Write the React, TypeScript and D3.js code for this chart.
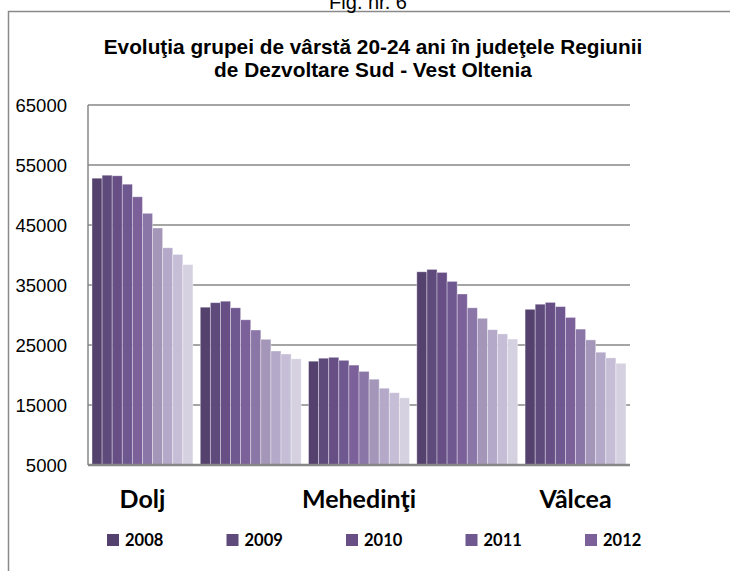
import React, { useEffect, useRef } from 'react'
import * as d3 from 'd3'

// judete din regiunea Sud-Vest Oltenia
const counties = ['Dolj', 'Gorj', 'Mehedinţi', 'Olt', 'Vâlcea']
const years = ['2008', '2009', '2010', '2011', '2012', '2013', '2014', '2015', '2016', '2017']

// valori, cate una pe an
const dolj = [52800, 53300, 53200, 51800, 49700, 46950, 44500, 41200, 40100, 38400]
const gorj = [31300, 32050, 32300, 31200, 29200, 27500, 25950, 24000, 23500, 22700]
const mehedinti = [22300, 22800, 22950, 22450, 21650, 20600, 19300, 17800, 17050, 16200]
const olt = [37200, 37600, 37100, 35600, 33500, 31200, 29450, 27550, 26850, 26000]
const valcea = [30950, 31800, 32100, 31400, 29600, 27650, 25850, 23800, 22850, 21950]

const yTicks = [5000, 15000, 25000, 35000, 45000, 55000, 65000]
const colors = ['#54416e', '#5f4a7c', '#674f86', '#6f5890', '#7b609a',
  '#8b76a8', '#a496b9', '#b4a9c9', '#c6bed6', '#d6d1e0']

function App() {
  const ref = useRef<SVGSVGElement>(null)

  useEffect(() => {
    const svg = d3.select(ref.current)
    svg.selectAll('*').remove()

    const values = [dolj, gorj, mehedinti, olt, valcea]
    const margin = { left: 88, right: 100, top: 105, bottom: 106 }
    const width = 730, height = 571

    // frame of the chart area
    svg.append('path')
      .attr('d', 'M8.5,' + height + 'V11.5H' + width)
      .attr('fill', 'none')
      .attr('stroke', '#8a8a8a')
      .attr('stroke-width', 1.5)

    // figure caption, cut at the top like in the original
    svg.append('text')
      .attr('x', 368).attr('y', 9)
      .attr('text-anchor', 'middle')
      .style('font-family', 'Liberation Sans, Arial, sans-serif')
      .style('font-size', '20px')
      .text('Fig. nr. 6')

    const title = svg.append('text')
      .attr('text-anchor', 'middle')
      .style('font-family', 'Liberation Sans, Arial, sans-serif')
      .style('font-size', '20.8px')
      .style('font-weight', 'bold')
    title.append('tspan').attr('x', 373).attr('y', 54)
      .text('Evoluţia grupei de vârstă 20-24 ani în judeţele Regiunii')
    title.append('tspan').attr('x', 373).attr('y', 77)
      .text('de Dezvoltare Sud - Vest Oltenia')

    var x0 = d3.scaleBand()
      .domain(counties)
      .range([margin.left, width - margin.right])
      .paddingInner(0.068)
      .paddingOuter(0.037)
    var x1 = d3.scaleBand()
      .domain(years)
      .range([0, x0.bandwidth()])
    var y = d3.scaleLinear()
      .domain([5000, 65000])
      .range([height - margin.bottom, margin.top])

    // gridlines
    svg.append('g')
      .selectAll('line')
      .data(yTicks.slice(1))
      .join('line')
      .attr('x1', margin.left).attr('x2', width - margin.right)
      .attr('y1', d => y(d)).attr('y2', d => y(d))
      .attr('stroke', '#878787')
      .attr('stroke-width', 1.5)

    svg.append('g')
      .selectAll('text')
      .data(yTicks)
      .join('text')
      .attr('x', 67)
      .attr('y', d => y(d) + 6.5)
      .attr('text-anchor', 'end')
      .style('font-family', 'Liberation Sans, Arial, sans-serif')
      .style('font-size', '18.5px')
      .text(d => d)

    // bars
    counties.forEach(function (c, ci) {
      svg.append('g')
        .attr('transform', 'translate(' + x0(c) + ',0)')
        .selectAll('rect')
        .data(values[ci])
        .join('rect')
        .attr('x', (d, i) => x1(years[i]))
        .attr('y', d => y(d))
        .attr('width', x1.bandwidth())
        .attr('height', d => y(5000) - y(d))
        .attr('fill', (d, i) => colors[i])
        .attr('stroke', 'rgba(255,255,255,0.45)')
        .attr('stroke-width', 0.8)
    })

    // axes lines
    svg.append('line')
      .attr('x1', margin.left).attr('x2', margin.left)
      .attr('y1', margin.top).attr('y2', y(5000))
      .attr('stroke', '#878787').attr('stroke-width', 1.5)
    svg.append('line')
      .attr('x1', margin.left).attr('x2', width - margin.right)
      .attr('y1', y(5000)).attr('y2', y(5000))
      .attr('stroke', '#878787').attr('stroke-width', 2.5)

    // only every second category label fits
    svg.append('g')
      .selectAll('text')
      .data(counties.filter((c, i) => i % 2 === 0))
      .join('text')
      .attr('x', d => x0(d) + x0.bandwidth() / 2)
      .attr('y', 508)
      .attr('text-anchor', 'middle')
      .style('font-family', 'Lato, sans-serif')
      .style('font-size', '25px')
      .style('font-weight', 'bold')
      .text(d => d)

    // legend (truncated to first five years like the original)
    var legendX = d3.scalePoint()
      .domain(years.slice(0, 5))
      .range([107, 585])
    var lg = svg.append('g')
      .selectAll('g')
      .data(years.slice(0, 5))
      .join('g')
      .attr('transform', d => 'translate(' + legendX(d) + ',534)')
    lg.append('rect')
      .attr('width', 12).attr('height', 12)
      .attr('fill', (d, i) => colors[i])
    lg.append('text')
      .attr('x', 18).attr('y', 12)
      .style('font-family', 'Lato, sans-serif')
      .style('font-size', '16.5px')
      .style('font-weight', 'bold')
      .text(d => d)
  }, [])

  return (
    <svg ref={ref} width={730} height={571}
      style={{ position: 'absolute', left: 0, top: 0, background: '#fff' }} />
  )
}

export default App
